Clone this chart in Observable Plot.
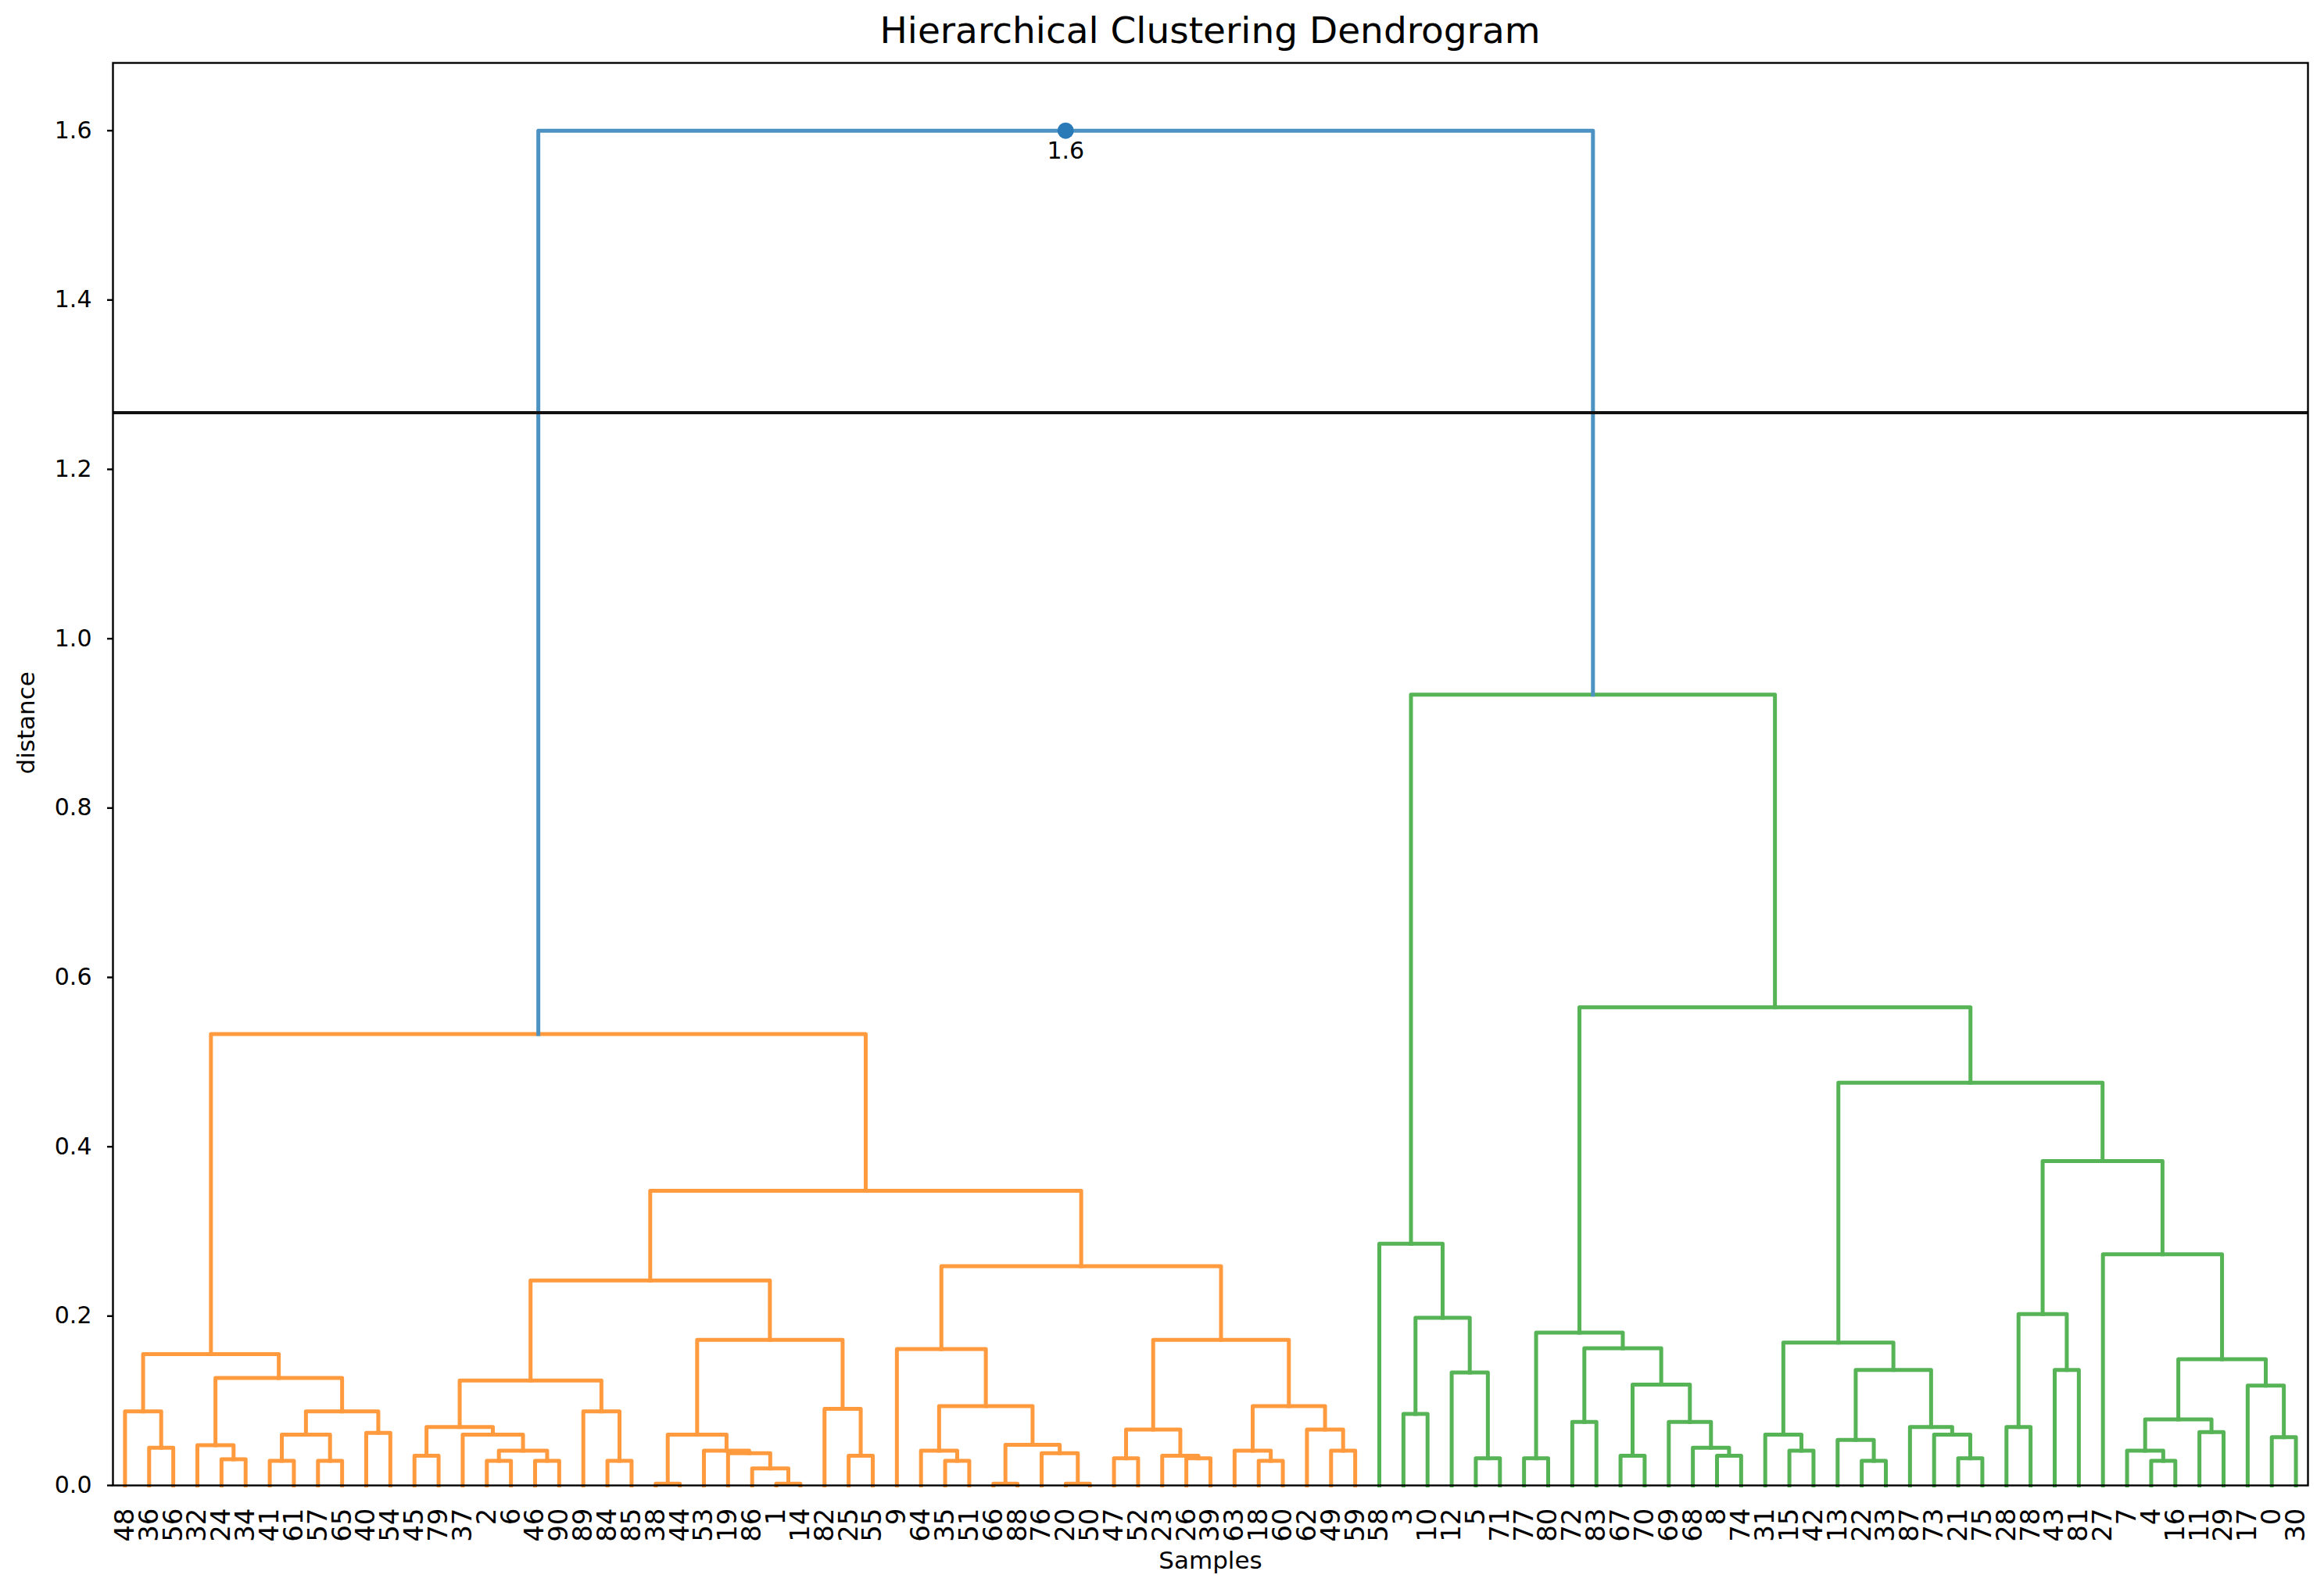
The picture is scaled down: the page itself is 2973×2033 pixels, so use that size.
<!DOCTYPE html>
<html>
<head>
<meta charset="utf-8">
<script src="https://cdn.jsdelivr.net/npm/d3@7"></script>
<script src="https://cdn.jsdelivr.net/npm/@observablehq/plot@0.6"></script>
<style>
  body { margin: 0; background: #fff; font-family: "DejaVu Sans", sans-serif; }
  #title { position: relative; width: 2973px; height: 60px; }
  #title span { position: absolute; left: 144px; width: 2808px; top: 15px; text-align: center;
    font-size: 47px; line-height: 47px; color: #000; font-family: "DejaVu Sans", sans-serif; }
</style>
</head>
<body>
<div id="title"><span>Hierarchical Clustering Dendrogram</span></div>
<div id="chart"></div>
<script>
// Leaf labels, left to right
const leafLabels = ["48","36","56","32","24","34","41","61","57","65","40","54","45","79","37","2","6","46","90","89","84","85","38","44","53","19","86","1","14","82","25","55","9","64","35","51","66","88","76","20","50","47","52","23","26","39","63","18","60","62","49","59","58","3","10","12","5","71","77","80","72","83","67","70","69","68","8","74","31","15","42","13","22","33","87","73","21","75","28","78","43","81","27","7","4","16","11","29","17","0","30"];

// Sub-clusters: [mergeHeight, left, right]; integers are leaf positions
const clusterA = [0.155,
  [0.0875, 0, [0.0445, 1, 2]],
  [0.127,
    [0.0475, 3, [0.031, 4, 5]],
    [0.0875, [0.060, [0.029, 6, 7], [0.029, 8, 9]], [0.062, 10, 11]]]];
const clusterE = [0.124,
  [0.069, [0.035, 12, 13], [0.060, 14, [0.041, [0.029, 15, 16], [0.029, 17, 18]]]],
  [0.0875, 19, [0.029, 20, 21]]];
const clusterF = [0.172,
  [0.060, [0.002, 22, 23], [0.041, 24, [0.038, 25, [0.020, 26, [0.002, 27, 28]]]]],
  [0.0905, 29, [0.035, 30, 31]]];
const clusterD = [0.259,
  [0.161, 32, [0.0936, [0.041, 33, [0.029, 34, 35]], [0.048, [0.002, 36, 37], [0.038, 38, [0.002, 39, 40]]]]],
  [0.172, [0.066, [0.032, 41, 42], [0.035, 43, [0.032, 44, 45]]],
          [0.0936, [0.041, 46, [0.029, 47, 48]], [0.066, 49, [0.041, 50, 51]]]]];
const orangeTree = [0.533, clusterA, [0.348, [0.242, clusterE, clusterF], clusterD]];

const clusterG1 = [0.2855, 52, [0.198, [0.0844, 53, 54], [0.1335, 55, [0.032, 56, 57]]]];
const clusterG2 = [0.1805, [0.032, 58, 59],
  [0.162, [0.075, 60, 61], [0.119, [0.035, 62, 63], [0.075, 64, [0.0445, 65, [0.035, 66, 67]]]]]];
const clusterG3 = [0.1688, [0.060, 68, [0.041, 69, 70]],
  [0.1365, [0.0537, 71, [0.029, 72, 73]], [0.069, 74, [0.060, 75, [0.032, 76, 77]]]]];
const clusterG4 = [0.383, [0.2025, [0.069, 78, 79], [0.1365, 80, 81]],
  [0.273, 82, [0.149, [0.078, [0.041, 83, [0.029, 84, 85]], [0.063, 86, 87]], [0.118, 88, [0.057, 89, 90]]]]];
const greenTree = [0.934, clusterG1, [0.5648, clusterG2, [0.4756, clusterG3, clusterG4]]];

const rootHeight = 1.6;
const cutHeight = 1.267;
const yTicks = [0, 0.2, 0.4, 0.6, 0.8, 1.0, 1.2, 1.4, 1.6];
const linkColors = {orange: "#ff9a3e", green: "#56b356", blue: "#4c92c3"};

// Build link polylines (scipy-like: leaf i at 5 + 10 i)
const links = [];
let linkId = 0;
function walk(node, color) {
  if (typeof node === "number") return {x: 5 + 10 * node, h: 0};
  const [h, l, r] = node;
  const L = walk(l, color), R = walk(r, color);
  const k = linkId++;
  links.push({k, x: L.x, y: L.h, c: color}, {k, x: L.x, y: h, c: color},
             {k, x: R.x, y: h, c: color}, {k, x: R.x, y: R.h, c: color});
  return {x: (L.x + R.x) / 2, h};
}
const o = walk(orangeTree, linkColors.orange);
const g = walk(greenTree, linkColors.green);
const rk = linkId++;
links.push({k: rk, x: o.x, y: o.h, c: linkColors.blue}, {k: rk, x: o.x, y: rootHeight, c: linkColors.blue},
           {k: rk, x: g.x, y: rootHeight, c: linkColors.blue}, {k: rk, x: g.x, y: g.h, c: linkColors.blue});
const rootPoint = [{x: (o.x + g.x) / 2, y: rootHeight}];

const chart = Plot.plot({
  width: 2973,
  height: 1973,
  marginTop: 20,
  marginBottom: 133,
  marginLeft: 144,
  marginRight: 21,
  x: {domain: [0, leafLabels.length * 10], axis: null},
  y: {domain: [0, rootHeight * 1.05], axis: null},
  color: {type: "identity"},
  style: {fontFamily: "DejaVu Sans, sans-serif", color: "black", background: "white", overflow: "visible"},
  marks: [
    Plot.line(links, {x: "x", y: "y", z: "k", stroke: "c", strokeWidth: 5,
      strokeLinejoin: "round", strokeLinecap: "square"}),
    Plot.ruleY([cutHeight], {stroke: "#111", strokeWidth: 4}),
    Plot.dot(rootPoint, {x: "x", y: "y", r: 10.5, fill: "#2a7ab8", stroke: null}),
    Plot.text(rootPoint, {x: "x", y: "y", text: d => d3.format(".3~g")(d.y), dy: 15,
      lineAnchor: "top", fontSize: 30, fill: "black"}),
    Plot.frame({stroke: "black", strokeWidth: 2.4}),
    Plot.axisY({ticks: yTicks, tickFormat: d3.format(".1f"), tickSize: 7, tickPadding: 20,
      fontSize: 30, label: null, strokeWidth: 2.4}),
    Plot.text(leafLabels, {x: (d, i) => 5 + 10 * i, y: () => 0, text: d => d, rotate: -90,
      textAnchor: "end", dy: 29, fontSize: 34, fill: "black"}),
    Plot.text(["distance"], {frameAnchor: "left", text: d => d, rotate: -90, dx: -110,
      fontSize: 31, fill: "black"}),
    Plot.text(["Samples"], {frameAnchor: "bottom", text: d => d, dy: 106,
      fontSize: 31, fill: "black"})
  ]
});
document.getElementById("chart").appendChild(chart);
</script>
</body>
</html>
